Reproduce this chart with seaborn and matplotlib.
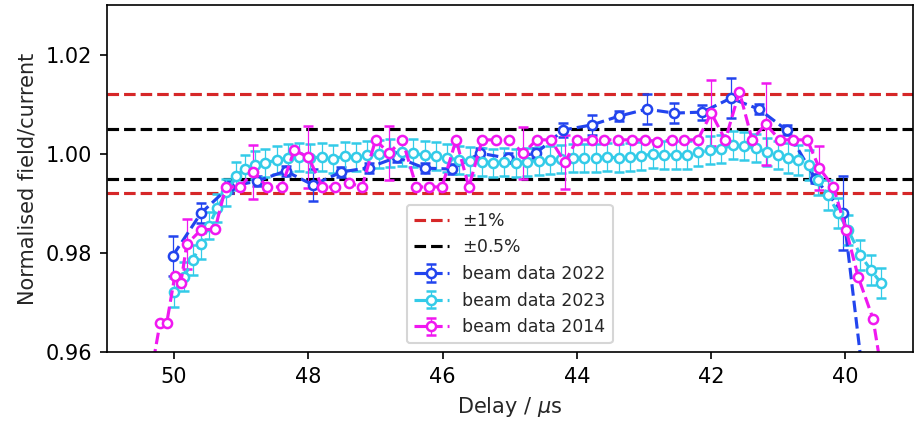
import matplotlib
matplotlib.use("Agg")
import matplotlib.pyplot as plt
import seaborn as sns

# beam data 2022
blue_x = [50.02, 49.60, 49.18, 48.76, 48.34, 47.93, 47.51, 47.10, 46.68, 46.27, 45.86, 45.44, 45.03,
          44.61, 44.20, 43.78, 43.37, 42.96, 42.55, 42.13, 41.71, 41.29, 40.87, 40.45, 40.03, 39.60]
blue_y = [0.9794, 0.9880, 0.9933, 0.9945, 0.9965, 0.9937, 0.9963, 0.9972, 0.9993, 0.9971, 0.9969, 1.0001, 0.9991,
          1.0001, 1.0048, 1.0058, 1.0076, 1.0090, 1.0082, 1.0084, 1.0112, 1.0090, 1.0047, 0.9950, 0.9880, 0.9390]
blue_err = [0.004, 0.002, 0.0012, 0.001, 0.001, 0.0032, 0.001, 0.001, 0.001, 0.001, 0.001, 0.001, 0.001,
            0.001, 0.0015, 0.002, 0.001, 0.003, 0.002, 0.0015, 0.004, 0.001, 0.001, 0.001, 0.0075, 0.001]

# beam data 2023
cyan_x = [50.00, 49.85, 49.72, 49.60, 49.48, 49.36, 49.22, 49.08, 48.94, 48.80, 48.64, 48.47, 48.30,
          48.14, 47.97, 47.80, 47.63, 47.46, 47.29, 47.12, 46.95, 46.78, 46.61, 46.44, 46.27, 46.10,
          45.93, 45.76, 45.59, 45.42, 45.25, 45.08, 44.91, 44.74, 44.57, 44.40, 44.23, 44.06, 43.89,
          43.72, 43.55, 43.38, 43.21, 43.04, 42.87, 42.70, 42.53, 42.36, 42.19, 42.02, 41.85, 41.68,
          41.51, 41.34, 41.17, 41.00, 40.85, 40.70, 40.55, 40.41, 40.26, 40.11, 39.96, 39.78, 39.62, 39.47]
cyan_y = [0.9720, 0.9752, 0.9786, 0.9818, 0.9855, 0.9890, 0.9922, 0.9955, 0.9970, 0.9978, 0.9982, 0.9987, 0.9991,
          0.9993, 0.9991, 0.9994, 0.9990, 0.9995, 0.9993, 0.9997, 0.9999, 1.0002, 1.0004, 1.0001, 0.9997, 0.9995,
          0.9991, 0.9988, 0.9985, 0.9984, 0.9982, 0.9983, 0.9982, 0.9984, 0.9986, 0.9988, 0.9989, 0.9991, 0.9991,
          0.9992, 0.9993, 0.9992, 0.9994, 0.9995, 1.0000, 0.9997, 0.9998, 0.9997, 1.0003, 1.0007, 1.0009, 1.0018,
          1.0016, 1.0011, 1.0004, 0.9997, 0.9991, 0.9987, 0.9977, 0.9947, 0.9917, 0.9880, 0.9846, 0.9796, 0.9765, 0.9739]
cyan_err = [0.003] * 4 + [0.0028] * 52 + [0.003] * 10

# beam data 2014
mag_x = [50.35, 50.21, 50.11, 49.99, 49.90, 49.81, 49.60, 49.39, 49.23, 49.02, 48.82, 48.61, 48.40, 48.21,
         48.00, 47.79, 47.60, 47.40, 47.20, 47.00, 46.80, 46.60, 46.39, 46.20, 46.01, 45.80, 45.61, 45.41,
         45.20, 45.01, 44.80, 44.60, 44.39, 44.18, 44.00, 43.78, 43.59, 43.39, 43.18, 42.99, 42.80, 42.59,
         42.40, 42.20, 42.00, 41.79, 41.58, 41.39, 41.19, 40.98, 40.78, 40.57, 40.39, 40.18, 39.99, 39.81,
         39.59, 39.39]
mag_y = [0.9550, 0.9658, 0.9658, 0.9753, 0.9739, 0.9818, 0.9846, 0.9848, 0.9933, 0.9933, 0.9963, 0.9933, 0.9933, 1.0007,
         0.9993, 0.9933, 0.9933, 0.9941, 0.9933, 1.0028, 1.0001, 1.0028, 0.9933, 0.9933, 0.9933, 1.0028, 0.9933, 1.0028,
         1.0028, 1.0028, 1.0001, 1.0028, 1.0028, 0.9983, 1.0028, 1.0028, 1.0028, 1.0028, 1.0028, 1.0028, 1.0024, 1.0028,
         1.0028, 1.0028, 1.0082, 1.0028, 1.0125, 1.0028, 1.0060, 1.0028, 1.0028, 1.0028, 0.9971, 0.9933, 0.9846, 0.9751,
         0.9667, 0.9500]
mag_err = [0, 0, 0, 0, 0, 0.005, 0, 0, 0, 0, 0.0055, 0, 0, 0,
           0.0063, 0, 0, 0, 0, 0, 0.0055, 0, 0, 0, 0, 0, 0, 0,
           0, 0, 0.0053, 0, 0, 0.0055, 0, 0, 0, 0, 0, 0, 0, 0,
           0, 0, 0.0066, 0, 0, 0, 0.0083, 0, 0, 0, 0.0045, 0, 0, 0,
           0, 0]

tol_1pct = [1.012, 0.992]
tol_05pct = [1.005, 0.995]

sns.set_style("ticks")
plt.rcParams.update({
    "font.family": ["DejaVu Sans"],
    "font.size": 10,
    "axes.labelsize": 10,
    "xtick.labelsize": 10,
    "ytick.labelsize": 10,
    "axes.edgecolor": "black",
    "xtick.color": "black",
    "ytick.color": "black",
    "axes.linewidth": 0.8,
})

fig, ax = plt.subplots(figsize=(914 / 150, 421 / 150), dpi=150)
fig.subplots_adjust(left=0.117, right=0.9985, bottom=0.164, top=0.988)

for i, v in enumerate(tol_1pct):
    ax.axhline(v, color="#d62728", ls="--", lw=1.5, label="$\\pm$1%" if i == 0 else None)
for i, v in enumerate(tol_05pct):
    ax.axhline(v, color="black", ls="--", lw=1.5, label="$\\pm$0.5%" if i == 0 else None)

style = dict(fmt="o--", mfc="white", ms=4.4, mew=1.2, lw=1.5, elinewidth=0.6, capthick=0.8, capsize=2.4)
ax.errorbar(blue_x, blue_y, yerr=blue_err, color="#2244ee", label="beam data 2022", **style)
ax.errorbar(cyan_x, cyan_y, yerr=cyan_err, color="#33cbe8", label="beam data 2023", **style)
ax.errorbar(mag_x, mag_y, yerr=mag_err, color="#f018f0", label="beam data 2014", **style)

ax.set_xlim(51, 39)
ax.set_ylim(0.96, 1.03)
ax.set_xticks([50, 48, 46, 44, 42, 40])
ax.set_yticks([0.96, 0.98, 1.00, 1.02])
ax.yaxis.set_major_formatter(matplotlib.ticker.FormatStrFormatter("%.2f"))
ax.set_xlabel("Delay / $\\mu$s")
ax.set_ylabel("Normalised field/current")
ax.legend(loc="lower center", fontsize=8.3, frameon=True)

fig.savefig("out.png", dpi=150)
